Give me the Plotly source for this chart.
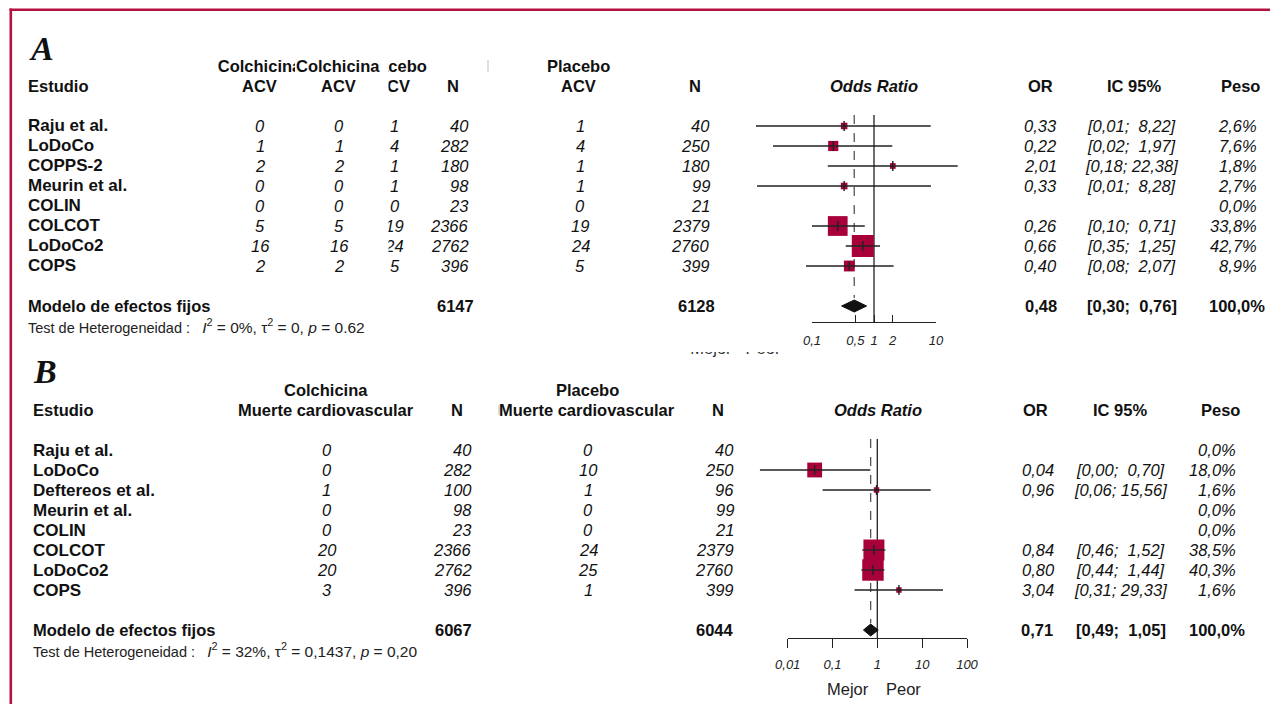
import plotly.graph_objects as go

W, H = 1270, 704

# ---------------- Panel A data ----------------
studies_A = ["Raju et al.", "LoDoCo", "COPPS-2", "Meurin et al.", "COLIN", "COLCOT", "LoDoCo2", "COPS"]
colch_ev_A = [0, 1, 2, 0, 0, 5, 16, 2]
colch_n_A = [40, 282, 180, 98, 23, 2366, 2762, 396]
plac_ev_A = [1, 4, 1, 1, 0, 19, 24, 5]
plac_n_A = [40, 250, 180, 99, 21, 2379, 2760, 399]
or_A = [0.33, 0.22, 2.01, 0.33, None, 0.26, 0.66, 0.40]
lo_A = [0.0125, 0.0235, 0.18, 0.013, None, 0.10, 0.35, 0.08]
hi_A = [8.22, 1.97, 22.38, 8.28, None, 0.71, 1.25, 2.07]
w_A = [2.6, 7.6, 1.8, 2.7, 0.0, 33.8, 42.7, 8.9]
tot_A = [6147, 6128]
pool_A = [0.48, 0.30, 0.76]
het_A = ["0%", "0", "0.62"]
ticks_A = [0.1, 0.5, 1, 2, 10]
ticklab_A = ["0,1", "0,5", "1", "2", "10"]

# ---------------- Panel B data ----------------
studies_B = ["Raju et al.", "LoDoCo", "Deftereos et al.", "Meurin et al.", "COLIN", "COLCOT", "LoDoCo2", "COPS"]
colch_ev_B = [0, 0, 1, 0, 0, 20, 20, 3]
colch_n_B = [40, 282, 100, 98, 23, 2366, 2762, 396]
plac_ev_B = [0, 10, 1, 0, 0, 24, 25, 1]
plac_n_B = [40, 250, 96, 99, 21, 2379, 2760, 399]
or_B = [None, 0.04, 0.96, None, None, 0.84, 0.80, 3.04]
lo_B = [None, 0.0024, 0.06, None, None, 0.46, 0.44, 0.31]
hi_B = [None, 0.70, 15.56, None, None, 1.52, 1.44, 29.33]
w_B = [0.0, 18.0, 1.6, 0.0, 0.0, 38.5, 40.3, 1.6]
tot_B = [6067, 6044]
pool_B = [0.71, 0.49, 1.05]
het_B = ["32%", "0,1437", "0,20"]
ticks_B = [0.01, 0.1, 1, 10, 100]
ticklab_B = ["0,01", "0,1", "1", "10", "100"]

FONT = "Liberation Sans, Arial, sans-serif"
SERIF = "Liberation Serif, DejaVu Serif, serif"
TXT = "#111111"
BOX = "#A8003A"
LINE = "#222222"
NB = "\u00a0"


def fmt(v, d=2):
    return f"{v:.{d}f}".replace(".", ",")


def ci_txt(lo, hi):
    h = fmt(hi)
    return "[" + fmt(lo) + ";" + NB + NB * (5 - len(h)) + h + "]"


def peso(w):
    return fmt(w, 1) + "%"


def px(x):
    return x / W


def py(y):
    return 1 - y / H


annotations = []


def ann(text, x, y, yref, xanchor="center", size=16.5, bold=False, italic=False, family=FONT, color=TXT):
    annotations.append(dict(
        text=text, x=px(x), xref="paper", y=y, yref=yref, xanchor=xanchor, yanchor="middle",
        showarrow=False,
        font=dict(family=family, size=size, color=color,
                  weight="bold" if bold else "normal",
                  style="italic" if italic else "normal")))


fig = go.Figure()


def forest(xa, ya, ors, los, his, ws, pool, dash_top):
    rows = list(range(len(ors)))
    fig.add_trace(go.Scatter(x=[1, 1], y=[-0.55, dash_top[1]], mode="lines",
                             line=dict(color=LINE, width=1.3), xaxis=xa, yaxis=ya, hoverinfo="skip"))
    fig.add_trace(go.Scatter(x=[pool[0], pool[0]], y=[-0.55, dash_top[0]], mode="lines",
                             line=dict(color="#555555", width=1.3, dash="dash"),
                             xaxis=xa, yaxis=ya, hoverinfo="skip"))
    bx, by, bs = [], [], []
    cx, cy = [], []
    for r, o, lo, hi, w in zip(rows, ors, los, his, ws):
        if o is None:
            continue
        bx.append(o)
        by.append(r)
        bs.append(1.5 + 3.14 * w ** 0.5)
        cx += [lo, hi, None]
        cy += [r, r, None]
    fig.add_trace(go.Scatter(x=bx, y=by, mode="markers",
                             marker=dict(symbol="square", size=bs, color=BOX, opacity=1,
                                         line=dict(width=0)),
                             xaxis=xa, yaxis=ya, hoverinfo="skip"))
    fig.add_trace(go.Scatter(x=cx, y=cy, mode="lines", line=dict(color=LINE, width=1.3),
                             xaxis=xa, yaxis=ya, hoverinfo="skip"))
    fig.add_trace(go.Scatter(x=bx, y=by, mode="markers",
                             marker=dict(symbol="line-ns-open", size=7, color="#222222", opacity=1,
                                         line=dict(color="#222222", width=1.4)),
                             xaxis=xa, yaxis=ya, hoverinfo="skip"))
    srow = len(ors) + 1
    h = 0.3
    fig.add_trace(go.Scatter(x=[pool[1], pool[0], pool[2], pool[0], pool[1]],
                             y=[srow, srow - h, srow, srow + h, srow],
                             mode="lines", fill="toself", fillcolor="#111111",
                             line=dict(color="#111111", width=1), xaxis=xa, yaxis=ya, hoverinfo="skip"))


forest("x", "y", or_A, lo_A, hi_A, w_A, pool_A, (8.6, 9.8))
forest("x3", "y3", or_B, lo_B, hi_B, w_B, pool_B, (8.65, 9.4))

# empty traces to register the display axes
fig.add_trace(go.Scatter(x=[], y=[], xaxis="x2", yaxis="y2"))
fig.add_trace(go.Scatter(x=[], y=[], xaxis="x4", yaxis="y4"))


# ---------- clipped text columns (overlapping table pieces) in panel A ----------
def clip_text(xa, ya, xs, ys, texts, bold=False, italic=False, size=16.5, color=TXT):
    fig.add_trace(go.Scatter(x=xs, y=ys, text=texts, mode="text", textposition="middle center",
                             textfont=dict(family=FONT, size=size, color=color,
                                           weight="bold" if bold else "normal",
                                           style="italic" if italic else "normal"),
                             xaxis=xa, yaxis=ya, hoverinfo="skip", cliponaxis=True))


rows_A = list(range(len(studies_A)))
dy = 0.1  # small vertical nudge so trace text lines up with annotations
clip_text("x5", "y", [259.5], [-3 + dy], ["Colchicina"], bold=True)
clip_text("x6", "y", [395.2, 392.6], [-3 + dy, -2 + dy], ["Placebo", "ACV"], bold=True)
clip_text("x6", "y", [394.5] * len(rows_A), [r + dy for r in rows_A], [str(v) for v in plac_ev_A], italic=True)
clip_text("x7", "y7", [711, 763], [350, 350], ["Mejor", "Peor"], color="#333333")


def het_text(vals):
    return ("Test de Heterogeneidad :" + NB + NB + NB
            + "<span style='font-size:15.5px'><i>I</i><sup>2</sup> = " + vals[0]
            + ", τ<sup>2</sup> = " + vals[1] + ", <i>p</i> = " + vals[2] + "</span>")


# ---------------- Panel A texts ----------------
ann("A", 27, -3.875, "y", xanchor="left", size=34, bold=True, italic=True, family=SERIF)
ann("Colchicina", 337.7, -3, "y", bold=True)
ann("Placebo", 578.5, -3, "y", bold=True)
for t, x, xa in [("Estudio", 26, "left"), ("ACV", 259.5, "center"), ("ACV", 338, "center"),
                 ("N", 452.5, "center"), ("ACV", 578.5, "center"), ("N", 694.5, "center"),
                 ("OR", 1040, "center"), ("IC 95%", 1134, "center"), ("Peso", 1240, "center")]:
    ann(t, x, -2, "y", xanchor=xa, bold=True)
ann("Odds Ratio", 874, -2, "y", bold=True, italic=True)

for r in rows_A:
    ann(studies_A[r], 26, r, "y", xanchor="left", size=17, bold=True)
    ann(str(colch_ev_A[r]), 260, r, "y", italic=True)
    ann(str(colch_ev_A[r]), 339, r, "y", italic=True)
    ann(str(colch_n_A[r]), 471, r, "y", xanchor="right", italic=True)
    ann(str(plac_ev_A[r]), 580, r, "y", italic=True)
    ann(str(plac_n_A[r]), 712, r, "y", xanchor="right", italic=True)
    if or_A[r] is not None:
        ann(fmt(or_A[r]), 1040, r, "y", italic=True)
        ann(ci_txt(lo_A[r], hi_A[r]), 1131, r, "y", italic=True)
    ann(peso(w_A[r]), 1259, r, "y", xanchor="right", italic=True)

ann("Modelo de efectos fijos", 26, 9, "y", xanchor="left", bold=True)
ann(str(tot_A[0]), 476, 9, "y", xanchor="right", bold=True)
ann(str(tot_A[1]), 717, 9, "y", xanchor="right", bold=True)
ann(fmt(pool_A[0]), 1041, 9, "y", bold=True)
ann(ci_txt(pool_A[1], pool_A[2]), 1132, 9, "y", bold=True)
ann(peso(100.0), 1267, 9, "y", xanchor="right", bold=True)
ann(het_text(het_A), 26, 10, "y", xanchor="left", size=14.5, color="#222222")

# ---------------- Panel B texts ----------------
rows_B = list(range(len(studies_B)))
ann("B", 31, -3.95, "y3", xanchor="left", size=34, bold=True, italic=True, family=SERIF)
ann("Colchicina", 326, -3, "y3", bold=True)
ann("Placebo", 587, -3, "y3", bold=True)
for t, x, xa in [("Estudio", 30.7, "left"), ("Muerte cardiovascular", 326, "center"),
                 ("N", 457, "center"), ("Muerte cardiovascular", 587, "center"), ("N", 718, "center"),
                 ("OR", 1035, "center"), ("IC 95%", 1120, "center"), ("Peso", 1220, "center")]:
    ann(t, x, -2, "y3", xanchor=xa, bold=True)
ann("Odds Ratio", 878, -2, "y3", bold=True, italic=True)

for r in rows_B:
    ann(studies_B[r], 30.7, r, "y3", xanchor="left", size=17, bold=True)
    ann(str(colch_ev_B[r]), 327, r, "y3", italic=True)
    ann(str(colch_n_B[r]), 474, r, "y3", xanchor="right", italic=True)
    ann(str(plac_ev_B[r]), 588, r, "y3", italic=True)
    ann(str(plac_n_B[r]), 736, r, "y3", xanchor="right", italic=True)
    if or_B[r] is not None:
        ann(fmt(or_B[r]), 1038, r, "y3", italic=True)
        ann(ci_txt(lo_B[r], hi_B[r]), 1120, r, "y3", italic=True)
    ann(peso(w_B[r]), 1238, r, "y3", xanchor="right", italic=True)

ann("Modelo de efectos fijos", 30.7, 9, "y3", xanchor="left", bold=True)
ann(str(tot_B[0]), 474, 9, "y3", xanchor="right", bold=True)
ann(str(tot_B[1]), 736, 9, "y3", xanchor="right", bold=True)
ann(fmt(pool_B[0]), 1037, 9, "y3", bold=True)
ann(ci_txt(pool_B[1], pool_B[2]), 1121, 9, "y3", bold=True)
ann(peso(100.0), 1247, 9, "y3", xanchor="right", bold=True)
ann(het_text(het_B), 30.7, 10, "y3", xanchor="left", size=14.5, color="#222222")
ann("Mejor", 848, 11.95, "y3", size=16.5, color="#222222")
ann("Peor", 903, 11.95, "y3", size=16.5, color="#222222")

# ---------------- shapes ----------------
BORDER = "#B3123F"
shapes = [
    dict(type="line", xref="paper", yref="paper", x0=px(9.5), x1=1, y0=py(9.8), y1=py(9.8),
         line=dict(color=BORDER, width=2.5)),
    dict(type="line", xref="paper", yref="paper", x0=px(10.8), x1=px(10.8), y0=py(8.6), y1=0,
         line=dict(color=BORDER, width=2.6)),
    dict(type="line", xref="paper", yref="paper", x0=px(488), x1=px(488), y0=py(60), y1=py(72),
         line=dict(color="#d4d4d4", width=1.5)),
    dict(type="line", xref="paper", yref="paper", x0=px(499), x1=px(499), y0=py(405), y1=py(415),
         line=dict(color="#d4d4d4", width=1.5)),
]


def log_range(p0, p1, one_px, per_dec):
    return [(p0 - one_px) / per_dec, (p1 - one_px) / per_dec]


hidden = dict(visible=False, showgrid=False, zeroline=False, fixedrange=True, automargin=False)
tickfont = dict(family=FONT, size=13, color="#222222", style="italic")

fig.update_layout(
    width=W, height=H, autosize=False,
    margin=dict(l=0, r=0, t=0, b=0, pad=0, autoexpand=False),
    paper_bgcolor="white", plot_bgcolor="rgba(0,0,0,0)", showlegend=False,
    font=dict(family=FONT, color=TXT),
    annotations=annotations, shapes=shapes,
    xaxis=dict(type="log", domain=[px(730), px(990)], range=log_range(730, 990, 874, 62),
               anchor="y", **hidden),
    yaxis=dict(domain=[py(350), py(40)], range=[(350 - 126) / 20, (40 - 126) / 20], anchor="x", **hidden),
    xaxis2=dict(type="log", domain=[px(812), px(936)], range=[-1, 1], anchor="y2",
                showline=True, linecolor=LINE, linewidth=1.2, ticks="inside", ticklen=7,
                tickwidth=1.2, tickcolor=LINE, tickvals=ticks_A, ticktext=ticklab_A,
                tickfont=tickfont, ticklabelstandoff=6, showgrid=False, zeroline=False,
                automargin=False, fixedrange=True),
    yaxis2=dict(domain=[py(322), py(312)], range=[0, 1], anchor="x2", **hidden),
    xaxis3=dict(type="log", domain=[px(740), px(1000)], range=log_range(740, 1000, 877.3, 44.8),
                anchor="y3", **hidden),
    yaxis3=dict(domain=[py(700), py(358)], range=[(700 - 450) / 20, (358 - 450) / 20], anchor="x3", **hidden),
    xaxis4=dict(type="log", domain=[px(787.7), px(967)], range=[-2, 2], anchor="y4",
                showline=True, linecolor=LINE, linewidth=1.2, ticks="outside", ticklen=9,
                tickwidth=1.2, tickcolor=LINE, tickvals=ticks_B, ticktext=ticklab_B,
                tickfont=tickfont, ticklabelstandoff=5, showgrid=False, zeroline=False,
                automargin=False, fixedrange=True),
    yaxis4=dict(domain=[py(638), py(628)], range=[0, 1], anchor="x4", **hidden),
    xaxis5=dict(domain=[0, px(295)], range=[0, 295], anchor="y", **hidden),
    xaxis6=dict(domain=[px(388.5), px(520)], range=[388.5, 520], anchor="y", **hidden),
    xaxis7=dict(domain=[px(600), px(820)], range=[600, 820], anchor="y7", **hidden),
    yaxis7=dict(domain=[py(362), py(352)], range=[362, 352], anchor="x7", **hidden),
)

fig.write_html(
    "out.html",
    config={"displayModeBar": False, "responsive": False},
    post_script="document.body.style.margin='0px';document.body.style.overflow='hidden';",
)
